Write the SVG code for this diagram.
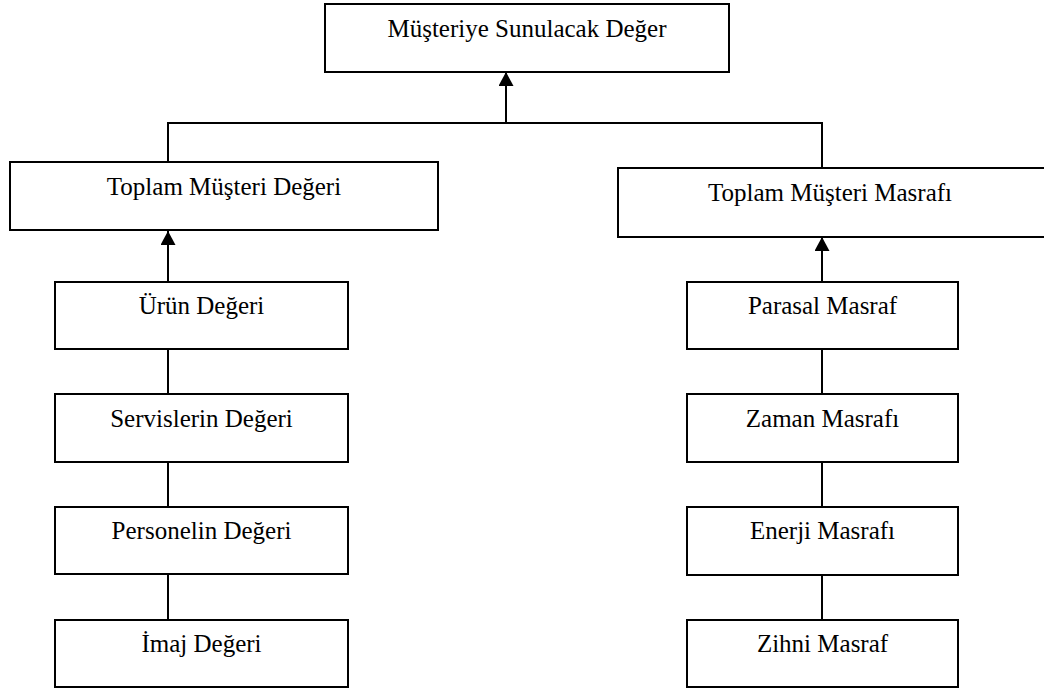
<svg xmlns="http://www.w3.org/2000/svg" width="1044" height="690" viewBox="0 0 1044 690">
  <style>
    .box { fill: #ffffff; stroke: #000000; stroke-width: 2; }
    .lbl { font-family: "Liberation Serif", "Times New Roman", serif; font-size: 25px; fill: #000000; text-anchor: middle; }
    .wire { fill: none; stroke: #000000; stroke-width: 2; }
    .arrow { marker-end: url(#head); }
  </style>
  <defs>
    <marker id="head" markerUnits="userSpaceOnUse" markerWidth="16" markerHeight="16" refX="14" refY="7.5" orient="auto">
      <path d="M0,0 L14,7.5 L0,15 Z" fill="#000000"/>
    </marker>
  </defs>
  <rect width="1044" height="690" fill="#ffffff"/>

  <!-- connectors -->
  <g id="connectors">
    <line class="wire arrow" x1="506" y1="123" x2="506" y2="72"/>
    <polyline class="wire" points="168,169 168,123 822,123 822,168"/>
    <line class="wire arrow" x1="168" y1="282" x2="168" y2="231"/>
    <line class="wire arrow" x1="822" y1="282" x2="822" y2="237"/>
    <line class="wire" x1="168" y1="349" x2="168" y2="394"/>
    <line class="wire" x1="168" y1="462" x2="168" y2="507"/>
    <line class="wire" x1="168" y1="574" x2="168" y2="620"/>
    <line class="wire" x1="822" y1="349" x2="822" y2="394"/>
    <line class="wire" x1="822" y1="462" x2="822" y2="507"/>
    <line class="wire" x1="822" y1="575" x2="822" y2="620"/>
  </g>

  <!-- top -->
  <g id="node-sunulacak-deger">
    <rect class="box" x="325" y="4" width="404" height="68"/>
    <text class="lbl" x="527" y="37">Müşteriye Sunulacak Değer</text>
  </g>

  <!-- second level -->
  <g id="node-toplam-deger">
    <rect class="box" x="10" y="162" width="428" height="68"/>
    <text class="lbl" x="224" y="195">Toplam Müşteri Değeri</text>
  </g>
  <g id="node-toplam-masraf">
    <rect class="box" x="618" y="168" width="428" height="69"/>
    <text class="lbl" x="830" y="201">Toplam Müşteri Masrafı</text>
  </g>

  <!-- value column -->
  <g id="node-urun">
    <rect class="box" x="55" y="282" width="293" height="67"/>
    <text class="lbl" x="201.5" y="314">Ürün Değeri</text>
  </g>
  <g id="node-servis">
    <rect class="box" x="55" y="394" width="293" height="68"/>
    <text class="lbl" x="201.5" y="427">Servislerin Değeri</text>
  </g>
  <g id="node-personel">
    <rect class="box" x="55" y="507" width="293" height="67"/>
    <text class="lbl" x="201.5" y="539">Personelin Değeri</text>
  </g>
  <g id="node-imaj">
    <rect class="box" x="55" y="620" width="293" height="67"/>
    <text class="lbl" x="201.5" y="652">İmaj Değeri</text>
  </g>

  <!-- cost column -->
  <g id="node-parasal">
    <rect class="box" x="687" y="282" width="271" height="67"/>
    <text class="lbl" x="822.5" y="314">Parasal Masraf</text>
  </g>
  <g id="node-zaman">
    <rect class="box" x="687" y="394" width="271" height="68"/>
    <text class="lbl" x="822.5" y="427">Zaman Masrafı</text>
  </g>
  <g id="node-enerji">
    <rect class="box" x="687" y="507" width="271" height="68"/>
    <text class="lbl" x="822.5" y="539">Enerji Masrafı</text>
  </g>
  <g id="node-zihni">
    <rect class="box" x="687" y="620" width="271" height="67"/>
    <text class="lbl" x="822.5" y="652">Zihni Masraf</text>
  </g>
</svg>
